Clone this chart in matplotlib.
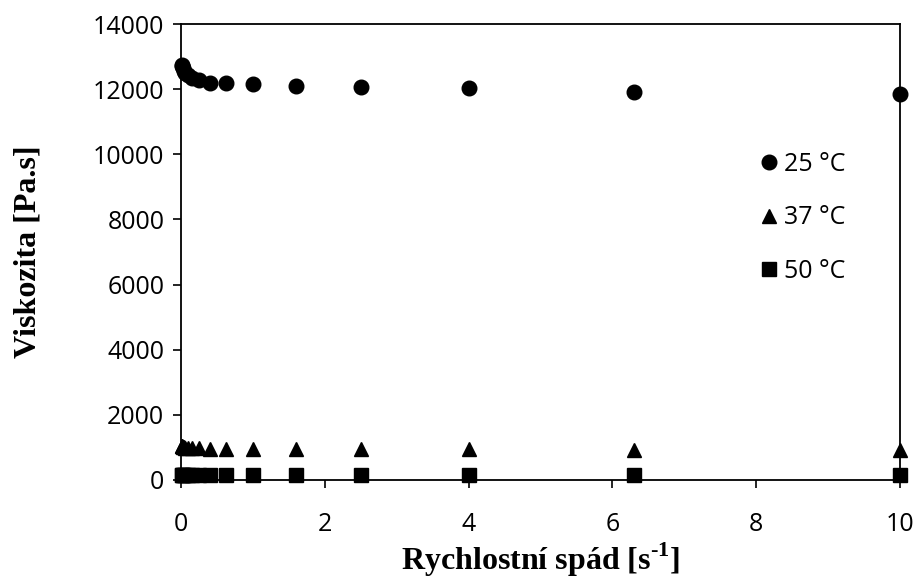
import matplotlib
matplotlib.use("Agg")
import matplotlib.pyplot as plt

plt.rcParams['mathtext.fontset'] = 'custom'
plt.rcParams['mathtext.rm'] = 'Liberation Serif:bold'
plt.rcParams['mathtext.bf'] = 'Liberation Serif:bold'

shear_rate = [0.01, 0.016, 0.025, 0.04, 0.063, 0.1, 0.16, 0.25, 0.4, 0.63, 1.0, 1.6, 2.5, 4.0, 6.3, 10.0]
visc_25 = [12750, 12700, 12640, 12570, 12500, 12420, 12340, 12270, 12200, 12180, 12150, 12100, 12080, 12050, 11920, 11850]
visc_37 = [1050, 1030, 1010, 1000, 990, 980, 975, 970, 965, 960, 955, 950, 945, 940, 935, 930]
visc_50 = [160, 158, 156, 155, 154, 153, 152, 151, 150, 150, 149, 148, 147, 146, 145, 144]
labels = ['25 °C', '37 °C', '50 °C']

tick_font = 'Open Sans'

fig = plt.figure(figsize=(9.2, 5.87), dpi=100)
ax = fig.add_axes([0.1967, 0.1823, 0.7815, 0.7768])

ax.plot(shear_rate, visc_25, 'o', color='black', markersize=10.5, linestyle='none', label=labels[0], clip_on=False, zorder=3)
ax.plot(shear_rate, visc_37, '^', color='black', markersize=10.5, linestyle='none', label=labels[1], clip_on=False, zorder=3)
ax.plot(shear_rate, visc_50, 's', color='black', markersize=10, linestyle='none', label=labels[2], clip_on=False, zorder=3)

ax.set_xlim(0, 10)
ax.set_ylim(0, 14000)
ax.set_xticks(range(0, 11, 2))
ax.set_yticks(range(0, 14001, 2000))
ax.tick_params(direction='out', length=6, width=1.2, labelsize=18, pad=6)
ax.tick_params(axis='x', pad=17)
for lab in ax.get_xticklabels() + ax.get_yticklabels():
    lab.set_fontfamily(tick_font)
for sp in ax.spines.values():
    sp.set_linewidth(1.3)
    sp.set_color('black')

ax.set_xlabel(r'Rychlostní spád [s$^{\mathrm{\text{-}1}}$]', fontfamily='Liberation Serif',
              fontweight='bold', fontsize=23, labelpad=2.5)
ax.set_ylabel('Viskozita [Pa.s]', fontfamily='Liberation Serif', fontweight='bold',
              fontsize=23, labelpad=36)

leg = ax.legend(loc='upper left', bbox_to_anchor=(0.787, 0.742), frameon=False,
                prop={'family': tick_font, 'size': 18}, labelspacing=1.15,
                handletextpad=0.1, handlelength=1.0, borderaxespad=0)

fig.savefig('out.png', dpi=100)
